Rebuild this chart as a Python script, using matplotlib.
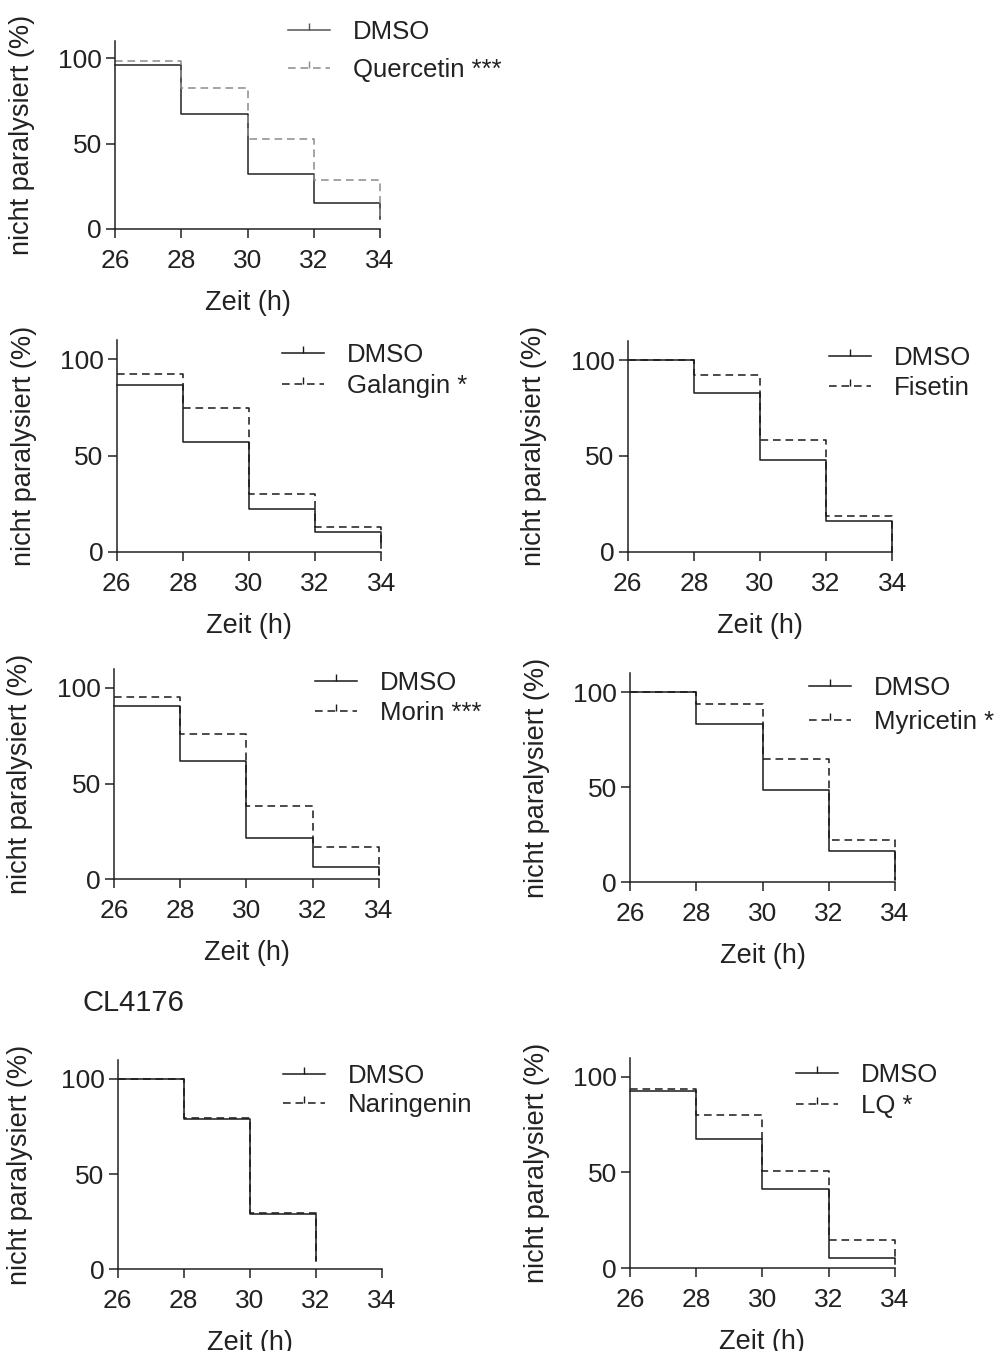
import matplotlib
matplotlib.use("Agg")
import matplotlib.pyplot as plt
from matplotlib.lines import Line2D
from matplotlib.path import Path

plt.rcParams['font.family'] = ['Liberation Sans', 'DejaVu Sans']
plt.rcParams['lines.scale_dashes'] = False

W, H = 999, 1351

# ---------------- data ----------------
times = [26, 28, 30, 32, 34]
x_ticks = [26, 28, 30, 32, 34]
y_ticks = [0, 50, 100]
x_label = "Zeit (h)"
y_label = "nicht paralysiert (%)"
ctrl_name = "DMSO"

# step values for intervals 26-28, 28-30, 30-32, 32-34 and value at end of last drop
quercetin_dmso = [96, 67, 32, 15]
quercetin_dmso_end = 6
quercetin_trt = [98, 82.5, 52.5, 28.5]
quercetin_trt_end = 5

galangin_dmso = [86.5, 57, 22, 10]
galangin_dmso_end = 2
galangin_trt = [92.5, 74.5, 30, 12.7]
galangin_trt_end = 3

fisetin_dmso = [100, 83, 48, 16]
fisetin_dmso_end = 0
fisetin_trt = [100, 92.3, 58.3, 18.6]
fisetin_trt_end = 0

morin_dmso = [90.6, 62, 21.7, 6.3]
morin_dmso_end = 2
morin_trt = [95.3, 75.8, 38, 17]
morin_trt_end = 2

myricetin_dmso = [100, 83.3, 48.4, 16.3]
myricetin_dmso_end = 1
myricetin_trt = [100, 93.7, 64.9, 22.1]
myricetin_trt_end = 1

naringenin_dmso = [100, 78.8, 29.1]
naringenin_dmso_end = 4.4
naringenin_trt = [100, 79.5, 29.6]
naringenin_trt_end = 4.4

lq_dmso = [92.7, 67.6, 41.5, 5.1]
lq_dmso_end = 2
lq_trt = [93.7, 80.1, 50.7, 14.6]
lq_trt_end = 3

panels = [
    ("Quercetin", quercetin_dmso, quercetin_dmso_end, quercetin_trt, quercetin_trt_end, "Quercetin ***"),
    ("Galangin", galangin_dmso, galangin_dmso_end, galangin_trt, galangin_trt_end, "Galangin *"),
    ("Fisetin", fisetin_dmso, fisetin_dmso_end, fisetin_trt, fisetin_trt_end, "Fisetin"),
    ("Morin", morin_dmso, morin_dmso_end, morin_trt, morin_trt_end, "Morin ***"),
    ("Myricetin", myricetin_dmso, myricetin_dmso_end, myricetin_trt, myricetin_trt_end, "Myricetin *"),
    ("Naringenin", naringenin_dmso, naringenin_dmso_end, naringenin_trt, naringenin_trt_end, "Naringenin"),
    ("LQ", lq_dmso, lq_dmso_end, lq_trt, lq_trt_end, "LQ *"),
]
group_title = "CL4176"

# ---------------- layout (pixels) ----------------
geom = [
    (115.0, 380.0, 229.0, 58.0),
    (116.7, 381.3, 551.7, 359.3),
    (627.7, 892.3, 551.7, 360.0),
    (114.3, 378.7, 879.3, 687.7),
    (630.3, 895.0, 882.3, 692.3),
    (117.7, 382.0, 1269.3, 1079.0),
    (630.0, 894.7, 1268.0, 1076.7),
]
leg_geom = [
    (288, 31, 37),
    (282, 354, 30),
    (829, 357, 29),
    (315, 682, 29),
    (809, 687, 33),
    (283, 1075, 28),
    (796, 1074, 30),
]
ylabel_x = [35, 37, 547, 33, 550, 33, 550]

YMAX = 110
TXT = "#222222"
tick_fs = 19
lab_fs = 19.5
leg_fs = 18.5

fig = plt.figure(figsize=(W / 100, H / 100), dpi=100)

tick_marker = Path([(0, 0), (0, 1)], [Path.MOVETO, Path.LINETO])


def curve(ax, vals, end, **kw):
    n = len(vals)
    xs = list(times[:n + 1]) + [times[n]]
    ys = list(vals) + [vals[-1], end]
    return ax.plot(xs, ys, drawstyle="steps-post", clip_on=False, **kw)[0]


for i, (name, dm, dm_end, tr, tr_end, tr_label) in enumerate(panels):
    xl, xr, y0, y100 = geom[i]
    ytop = y0 - (y0 - y100) * YMAX / 100
    ax = fig.add_axes([xl / W, 1 - y0 / H, (xr - xl) / W, (y0 - ytop) / H])
    ax.set_xlim(26, 34)
    ax.set_ylim(0, YMAX)
    ax.patch.set_alpha(0)
    for s in ("top", "right"):
        ax.spines[s].set_visible(False)
    for s in ("left", "bottom"):
        ax.spines[s].set_linewidth(1.1)
        ax.spines[s].set_color("#222222")
    ax.set_xticks(x_ticks)
    ax.set_yticks(y_ticks)
    ax.tick_params(direction="out", length=6.5, width=1.1, color="#222222",
                   labelsize=tick_fs, labelcolor=TXT)
    ax.tick_params(axis="x", pad=8)
    ax.tick_params(axis="y", pad=3)

    if i == 0:
        dm_col, tr_col = "#222222", "#8c8c8c"
    else:
        dm_col, tr_col = "#1a1a1a", "#1a1a1a"
    dash = (0, (5.5, 3.5))
    curve(ax, dm, dm_end, color=dm_col, lw=1.1, ls="-")
    curve(ax, tr, tr_end, color=tr_col, lw=1.1, ls=dash)

    ax.set_xlabel(x_label, fontsize=lab_fs, color=TXT, labelpad=12)
    ax.set_ylabel(y_label, fontsize=lab_fs, color=TXT)
    lx = (ylabel_x[i] - xl) / (xr - xl)
    ax.yaxis.set_label_coords(lx, 0.5)

    h1 = Line2D([], [], color="#555555" if i == 0 else dm_col, lw=1.1, ls="-",
                marker=tick_marker, markersize=10, markeredgewidth=1.0, fillstyle="none")
    h2 = Line2D([], [], color=tr_col, lw=1.1, ls=dash,
                marker=tick_marker, markersize=10, markeredgewidth=1.0, fillstyle="none")
    hx, hy, sp = leg_geom[i]
    em = leg_fs * 100 / 72
    row_h = 0.92 * em
    ax.legend([h1, h2], [ctrl_name, tr_label], loc="upper left",
              bbox_to_anchor=(hx / W, 1 - (hy - row_h / 2 + 1) / H),
              bbox_transform=fig.transFigure, frameon=False,
              borderpad=0, borderaxespad=0, handlelength=42 / em,
              handletextpad=23 / em, labelspacing=max(0, (sp - row_h) / em),
              fontsize=leg_fs, labelcolor=TXT, numpoints=1)

fig.text(83 / W, 1 - 1003 / H, group_title, fontsize=21, color=TXT,
         ha="left", va="center")

fig.savefig("out.png", dpi=100, facecolor="white")
